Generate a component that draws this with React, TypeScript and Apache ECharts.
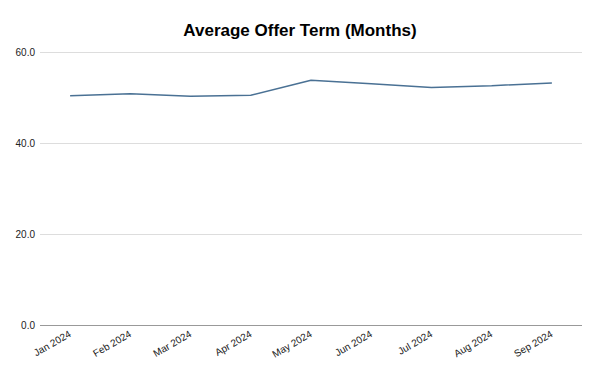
import React, { useEffect, useRef } from "react";
import * as echarts from "echarts";

const categories = ["Jan 2024", "Feb 2024", "Mar 2024", "Apr 2024", "May 2024", "Jun 2024", "Jul 2024", "Aug 2024", "Sep 2024"];
const offerTerm = [50.4, 50.8, 50.3, 50.5, 53.8, 53.0, 52.2, 52.6, 53.2];
const yTicks = { min: 0, max: 60, interval: 20 };

export default function App() {
  const ref = useRef<HTMLDivElement>(null);
  useEffect(() => {
    if (!ref.current) return;
    const chart = echarts.init(ref.current, null, { renderer: "svg" });
    chart.setOption({
      animation: false,
      backgroundColor: "#ffffff",
      title: {
        text: "Average Offer Term (Months)",
        left: "center",
        top: 17,
        textStyle: { fontFamily: "Liberation Sans, Arial, sans-serif", fontSize: 17, fontWeight: "bold", color: "#000" },
      },
      grid: { left: 40, right: 18, top: 52, bottom: 46 },
      xAxis: {
        type: "category",
        data: categories,
        boundaryGap: true,
        axisLine: { show: false },
        axisTick: { show: false },
        axisLabel: {
          rotate: 30,
          fontFamily: "Liberation Sans, Arial, sans-serif",
          fontSize: 10,
          color: "#222",
          margin: 8,
          interval: 0,
        },
      },
      yAxis: {
        type: "value",
        min: yTicks.min,
        max: yTicks.max,
        interval: yTicks.interval,
        axisLine: { show: false },
        axisTick: { show: false },
        axisLabel: {
          formatter: (v: number) => v.toFixed(1),
          fontFamily: "Liberation Sans, Arial, sans-serif",
          fontSize: 10,
          color: "#222",
          margin: 5,
        },
        splitLine: { lineStyle: { color: "#dddddd", width: 1 } },
      },
      series: [
        {
          type: "line",
          data: offerTerm,
          symbol: "none",
          lineStyle: { color: "#4a7194", width: 1.5 },
          markLine: {
            silent: true,
            symbol: "none",
            label: { show: false },
            lineStyle: { color: "#999999", width: 1, type: "solid" },
            data: [{ yAxis: 0 }],
          },
        },
      ],
    });
    return () => chart.dispose();
  }, []);
  return <div ref={ref} style={{ position: "fixed", left: 0, top: 0, width: 600, height: 371 }} />;
}
